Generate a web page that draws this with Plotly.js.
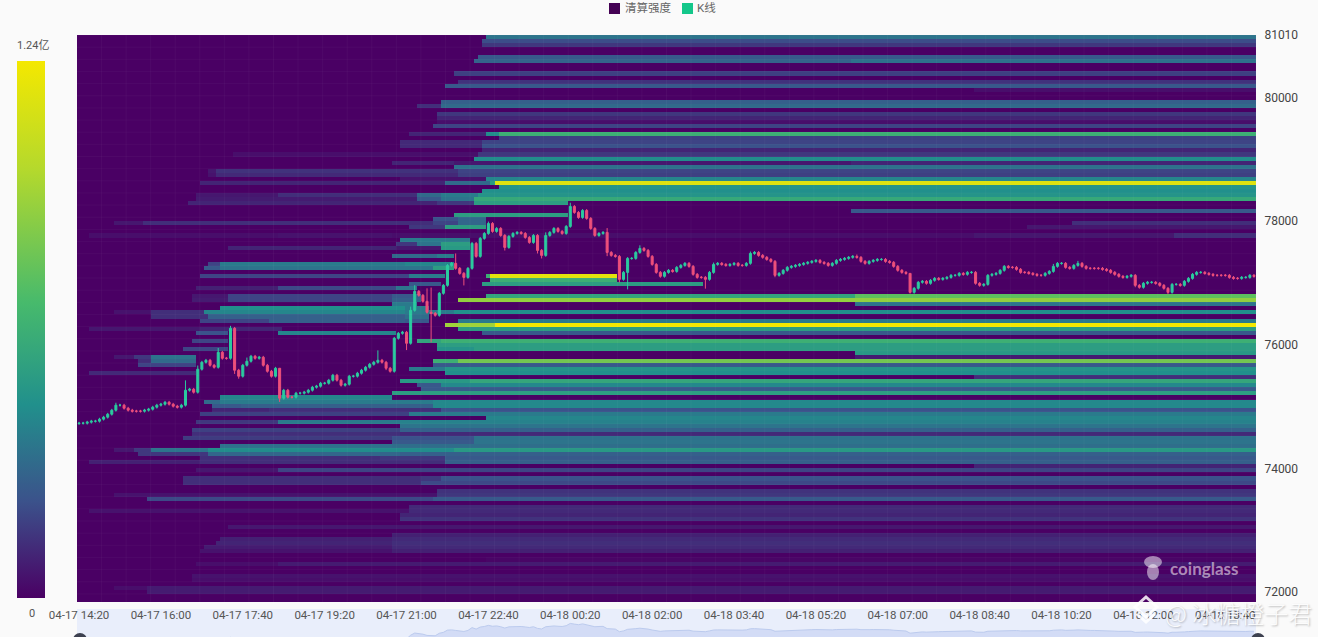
<!DOCTYPE html>
<html><head><meta charset="utf-8">
<script src="https://cdn.plot.ly/plotly-3.0.1.min.js"></script>
<style>html,body{margin:0;padding:0;background:#fafafa}#c{width:1318px;height:637px}
.heatmaplayer image{filter:blur(0.7px)}
.boxlayer{filter:blur(0.35px)}
</style>
</head><body><div id="c"></div>
<script>
const xTickIndex=[0,20,40,60,80,100,120,140,160,180,200,220,240,260,280];
const xTickLabels=["04-17 14:20","04-17 16:00","04-17 17:40","04-17 19:20","04-17 21:00","04-17 22:40","04-18 00:20","04-18 02:00","04-18 03:40","04-18 05:20","04-18 07:00","04-18 08:40","04-18 10:20","04-18 12:00","04-18 13:40"];
const yTicks=[72000,74000,76000,78000,80000,81010];
const priceTop=81012, levelStep=65.53;
// liquidation intensity (percent of 1.24亿): each level lists [startCandle, value, startCandle, value...]
const liquidationLevels=[
[100,28],[99,17],[99,12],[],[],[98,20],[97,23,189,27],[],[],[92,14],
[],[93,11],[90,20],[219,3],[],[],[89,22],[83,10,89,25],[],[88,12],
[88,8],[88,3],[87,15],[],[81,8,100,35,103,50],[103,14],[79,9,99,15],[79,9,99,18],[99,8],[38,3,98,12],
[97,35],[77,8,92,5,189,8],[92,27],[32,5,34,11,93,15],[32,4,34,9,93,14],[79,4,100,33],[30,8,90,25,101,40,102,93],[103,38],[99,36],[29,5,49,10,83,25,89,30,98,38],
[29,6,83,20,89,28,97,47],[27,8,88,12,97,42,120,0],[],[189,20],[92,42,120,0],[87,18,93,24,100,0],[9,5,16,10,81,10,87,15,93,24,100,0,243,10],[81,12,90,42,100,0,232,5],[],[3,3,49,4,77,3,219,5,268,10],
[79,30,96,0],[78,12,83,28,89,42,96,0],[37,8,78,5,89,40,96,0],[],[77,25,88,30,92,0],[],[32,15,35,30,80,33,92,0],[31,20,35,28,87,42,92,0],[],[30,15,81,30,90,0,100,50,101,95,132,0],
[101,50,132,0],[81,20,89,0,99,42,153,0],[29,7,49,16,78,28,83,0],[],[28,5,37,15,77,20,84,0,100,45,190,60],[28,6,37,15,77,22,84,0,93,72],[77,30,83,0,190,28],[35,36,80,30,86,0],[9,4,18,10,31,33,80,30,92,36],[18,10,32,22,80,26,86,0],
[30,15,47,22,80,20,86,0,93,30],[90,75,102,100],[3,5,30,8,50,0,93,42],[29,18,37,0,49,33,78,0,99,20],[],[28,15,37,0,83,45,89,50],[88,42],[26,15,37,0,88,38,97,42],[190,40],[9,5,14,12,18,28,29,0,190,6],
[15,10,18,25,29,0,87,50,93,65],[15,15,29,0,87,20],[81,30,90,38],[3,9,29,0,90,36],[219,10],[79,40,96,46],[83,20,89,34],[84,20],[77,42],[35,33,77,0],
[31,25,35,30,87,34],[33,20,40,22,87,34],[33,8,47,10,89,18],[30,14,81,30],[100,33],[29,12,49,30,79,32],[79,28],[28,14,79,22],[28,10,79,9],[26,13,77,18,97,27],
[77,20,97,28],[35,27,77,26],[9,5,14,12,18,28,32,35,92,40],[15,12,32,24,79,22],[30,10,74,12,90,20],[3,7,30,10,90,22],[219,8],[29,5,49,15],[],[26,10,84,12,89,18],
[26,10,84,16],[],[88,11],[9,4,88,12],[17,16,87,20],[],[81,9],[3,4,81,9],[79,8],[79,11],
[],[37,5],[],[77,7],[35,7,77,9],[34,8,77,10],[31,6,77,9],[30,4,77,7],[],[100,1],
[29,3,49,6],[],[],[28,4,79,4],[28,3],[],[9,3,17,6,79,6],[17,6,79,6],[],[]
];
const closes=[74731,74731,74747,74763,74763,74796,74828,74876,74941,75022,
75022,74973,74941,74925,74925,74925,74941,74957,74990,75022,
75038,75070,75038,75006,74990,75022,75264,75280,75232,75604,
75717,75749,75668,75636,75878,75781,75781,76266,75588,75491,
75668,75733,75814,75781,75798,75668,75571,75491,75620,75135,
75264,75151,75151,75216,75216,75232,75264,75313,75329,75377,
75377,75426,75507,75426,75345,75361,75491,75491,75539,75588,
75636,75684,75717,75749,75717,75620,75571,76105,76185,76202,
76024,76557,76864,76800,76703,76525,76509,76476,76832,76961,
77284,77317,77236,77155,77090,77236,77640,77430,77721,77801,
77963,77834,77882,77769,77575,77753,77801,77818,77801,77737,
77656,77769,77527,77446,77769,77818,77882,77834,77801,77915,
78238,78141,78060,78173,78044,77882,77769,77801,77818,77494,
77446,77430,77058,77171,77397,77397,77494,77559,77527,77430,
77300,77171,77107,77171,77204,77187,77252,77284,77317,77268,
77139,77090,77090,77058,77171,77300,77317,77300,77284,77300,
77317,77284,77284,77317,77478,77494,77446,77414,77381,77349,
77123,77155,77204,77252,77268,77284,77300,77317,77333,77349,
77365,77333,77317,77284,77317,77365,77381,77397,77414,77430,
77414,77349,77317,77349,77365,77381,77381,77349,77333,77268,
77204,77171,77155,76848,76913,77010,77026,76994,77042,77074,
77058,77074,77090,77123,77123,77155,77139,77171,77171,76994,
76961,76977,77123,77139,77155,77204,77268,77252,77252,77220,
77171,77171,77155,77139,77123,77123,77155,77187,77268,77317,
77317,77252,77236,77284,77317,77268,77236,77236,77236,77236,
77220,77204,77171,77139,77107,77090,77107,77123,76961,76929,
76994,77010,77010,76994,76961,76913,76848,76977,76977,76961,
77026,77074,77139,77171,77171,77155,77139,77123,77123,77123,
77123,77090,77074,77074,77090,77090,77123,77107];
const firstOpen=74725, typicalWick=22;
// candles whose wicks are visibly longer than usual: [candle, USD]
const longUpperWicks=[[9,40],[26,160],[29,60],[34,70],[37,40],[41,60],[49,0],[73,160],[81,60],[82,100],[85,210],[86,400],[92,160],[100,30],[114,50],[120,60],[129,70],[137,50],[155,30],[164,30],[190,30],[203,0],[238,40],[244,40]];
const longLowerWicks=[[38,60],[39,40],[49,60],[75,30],[80,110],[86,470],[94,130],[104,50],[112,50],[113,50],[129,60],[132,50],[134,275],[153,150],[170,30],[203,20],[266,30],[258,30]];

const cmap=[[0,'#4a0064'],[0.18,'#3b528b'],[0.36,'#21908c'],[0.55,'#47ba6c'],[0.8,'#b5d92c'],[1,'#f4e800']];
const nCandles=closes.length;
const levelPrices=liquidationLevels.map((_,i)=>priceTop-levelStep*(i+0.5));
const z=liquidationLevels.map(runs=>{
  const row=[];let cur=0,k=0;
  for(let c=0;c<nCandles;c++){
    while(k<runs.length&&runs[k]<=c){cur=runs[k+1];k+=2;}
    row.push(cur);
  }
  return row;
});
const idx=closes.map((_,i)=>i);
const opens=closes.map((c,i)=>i?closes[i-1]:firstOpen);
const upMap=Object.fromEntries(longUpperWicks), loMap=Object.fromEntries(longLowerWicks);
const highs=closes.map((c,i)=>Math.max(c,opens[i])+(upMap[i]!==undefined?upMap[i]:typicalWick));
const lows=closes.map((c,i)=>Math.min(c,opens[i])-(loMap[i]!==undefined?loMap[i]:typicalWick));

const W=1318,H=637;
const px=x=>x/W, py=y=>1-y/H;
const traces=[
 {type:'heatmap',x:idx,y:levelPrices,z:z,zmin:0,zmax:100,colorscale:cmap,hoverinfo:'skip',xaxis:'x',yaxis:'y',
  colorbar:{xref:'container',yref:'container',x:px(17),xanchor:'left',y:py(330),yanchor:'middle',lenmode:'pixels',len:537,thicknessmode:'pixels',thickness:28,outlinewidth:0,xpad:0,ypad:0,ticks:'',showticklabels:false,borderwidth:0}},
 {type:'candlestick',x:idx,open:opens,high:highs,low:lows,close:closes,xaxis:'x',yaxis:'y',whiskerwidth:0,hoverinfo:'skip',
  increasing:{line:{color:'#2bcb9f',width:1},fillcolor:'#2bcb9f'},
  decreasing:{line:{color:'#ee4f7b',width:1},fillcolor:'#ee4f7b'},showlegend:false},
 {type:'scatter',mode:'lines',x:idx,y:closes,xaxis:'x2',yaxis:'y2',fill:'tozeroy',fillcolor:'#d3dcf6',line:{color:'#bccbee',width:1},hoverinfo:'skip',showlegend:false}
];
const shapes=[
 {type:'rect',xref:'paper',yref:'paper',x0:px(77),x1:px(1256),y0:py(637),y1:py(609),fillcolor:'#e9eefb',line:{width:0},layer:'below'},
 {type:'circle',xref:'paper',yref:'paper',x0:px(73),x1:px(87),y0:py(647),y1:py(633),fillcolor:'#3d4150',line:{width:0}},
 {type:'circle',xref:'paper',yref:'paper',x0:px(1251),x1:px(1265),y0:py(647),y1:py(633),fillcolor:'#3d4150',line:{width:0}},
 {type:'rect',xref:'paper',yref:'paper',x0:px(609),x1:px(620),y0:py(14),y1:py(3),fillcolor:'#440154',line:{width:0}},
 {type:'rect',xref:'paper',yref:'paper',x0:px(682),x1:px(693),y0:py(14),y1:py(3),fillcolor:'#14c78a',line:{width:0}},
 // coinglass mascot
 {type:'circle',xref:'paper',yref:'paper',x0:px(1144),x1:px(1162),y0:py(568),y1:py(556),fillcolor:'rgba(255,255,255,0.5)',line:{width:0}},
 {type:'circle',xref:'paper',yref:'paper',x0:px(1147),x1:px(1159),y0:py(580),y1:py(564),fillcolor:'rgba(255,255,255,0.5)',line:{width:0}},
 // note-app diamond
 {type:'path',xref:'paper',yref:'paper',path:`M ${px(1146)} ${py(597)} L ${px(1157)} ${py(607)} L ${px(1146)} ${py(617)} L ${px(1135)} ${py(607)} Z`,fillcolor:'rgba(255,255,255,0)',line:{color:'rgba(255,255,255,0.85)',width:3}},
 {type:'path',xref:'paper',yref:'paper',path:`M ${px(1137)} ${py(614)} L ${px(1146)} ${py(622)} L ${px(1155)} ${py(614)}`,fillcolor:'rgba(255,255,255,0)',line:{color:'rgba(255,255,255,0.85)',width:3}}
];
for(let c=5.5;c<nCandles;c+=6){shapes.push({type:'line',xref:'x',yref:'paper',x0:c,x1:c,y0:py(602),y1:py(35),line:{color:'rgba(255,255,255,0.035)',width:1}});}
for(let r=0;r<liquidationLevels.length;r+=3){const p=priceTop-levelStep*r;shapes.push({type:'line',xref:'paper',yref:'y',x0:px(77),x1:px(1256),y0:p,y1:p,line:{color:'rgba(255,255,255,0.03)',width:1}});}
const ann=(t,x,y,size,color,extra)=>Object.assign({text:t,xref:'paper',yref:'paper',x:px(x),y:py(y),showarrow:false,xanchor:'left',yanchor:'middle',font:{family:'Roboto, "Noto Sans CJK SC"',size:size,color:color}},extra||{});
const layout={
 width:W,height:H,margin:{l:0,r:0,t:0,b:0,autoexpand:false},paper_bgcolor:'#fafafa',plot_bgcolor:'#4a0064',showlegend:false,
 xaxis:{domain:[px(77),px(1256)],anchor:'y',range:[-0.5,nCandles-0.5],rangeslider:{visible:false},tickmode:'array',tickvals:xTickIndex,ticktext:xTickLabels,ticks:'outside',ticklen:2,tickcolor:'rgba(0,0,0,0)',showgrid:false,zeroline:false,showline:false,tickfont:{family:'Roboto',size:11.5,color:'#555'}},
 yaxis:{domain:[py(602),py(35)],anchor:'x',side:'right',range:[priceTop-levelStep*liquidationLevels.length,priceTop],tickmode:'array',tickvals:yTicks,ticktext:yTicks.map(String),ticks:'outside',ticklen:5,tickcolor:'rgba(0,0,0,0)',showgrid:false,zeroline:false,showline:false,tickfont:{family:'Roboto',size:12,color:'#444'}},
 xaxis2:{domain:[px(77),px(1256)],anchor:'y2',range:[-0.5,nCandles-0.5],visible:false},
 yaxis2:{domain:[0,py(610)],anchor:'x2',range:[76300,80157],visible:false},
 shapes:shapes,
 annotations:[
  ann('1.24亿',15,45,11,'#555'),
  ann('0',27,613,11,'#555'),
  ann('清算强度',623,8,11.5,'#666'),
  ann('K线',695,8,11.5,'#666'),
  ann('coinglass',1168,568,16,'rgba(255,255,255,0.55)',{font:{family:'Lato',size:17,color:'rgba(255,255,255,0.55)',weight:700}}),
  ann('@ 冰糖橙子君',1163,612,24,'rgba(255,255,255,0.9)',{font:{family:'"Noto Sans CJK SC"',size:24,color:'rgba(255,255,255,0.9)',shadow:'1px 1px 2px rgba(0,0,0,0.3)',weight:300}})
 ]
};
Plotly.newPlot('c',traces,layout,{displayModeBar:false,staticPlot:true});
</script></body></html>
